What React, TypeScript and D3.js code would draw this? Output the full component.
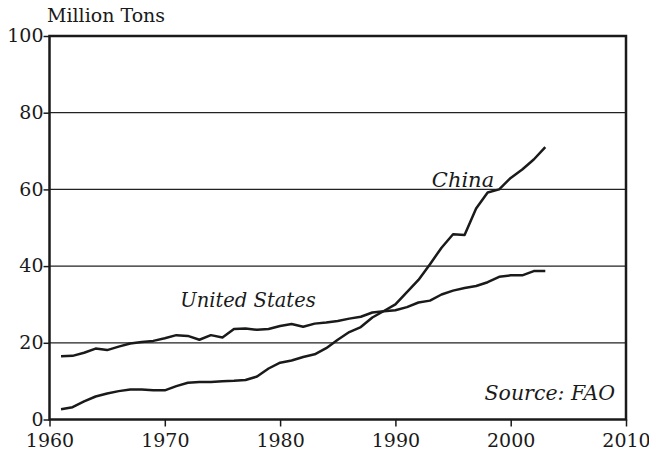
import React, { useEffect, useRef } from 'react';
import * as d3 from 'd3';

const years = d3.range(1961, 2004);

const china = [
  2.7, 3.2, 4.7, 6.0, 6.8, 7.4, 7.8, 7.8, 7.6, 7.6,
  8.7, 9.6, 9.8, 9.8, 10.0, 10.1, 10.3, 11.2, 13.3, 14.8,
  15.4, 16.3, 17.0, 18.6, 20.8, 22.8, 24.1, 26.6, 28.3, 30.0,
  33.2, 36.4, 40.5, 44.8, 48.3, 48.1, 55.0, 59.2, 60.0, 63.0,
  65.2, 67.8, 71.0,
];

const unitedStates = [
  16.5, 16.6, 17.4, 18.5, 18.1, 19.0, 19.8, 20.2, 20.5, 21.2,
  22.0, 21.8, 20.8, 22.0, 21.4, 23.6, 23.7, 23.4, 23.6, 24.4,
  24.9, 24.2, 25.0, 25.3, 25.7, 26.3, 26.8, 27.9, 28.2, 28.5,
  29.3, 30.5, 31.0, 32.6, 33.6, 34.3, 34.8, 35.8, 37.2, 37.6,
  37.6, 38.7, 38.7,
];

const xTicks = [1960, 1970, 1980, 1990, 2000, 2010];
const yTicks = [0, 20, 40, 60, 80, 100];

const FONT = "'DejaVu Serif', serif";

const App: React.FC = () => {
  const svgRef = useRef<SVGSVGElement | null>(null);

  useEffect(() => {
    const svg = d3.select(svgRef.current!);
    svg.selectAll('*').remove();

    const width = 657;
    const height = 456;
    const margin = { top: 36, right: 31, bottom: 36.5, left: 49.5 };
    const innerW = width - margin.left - margin.right;
    const innerH = height - margin.top - margin.bottom;

    const x = d3.scaleLinear().domain([1960, 2010]).range([0, innerW]);
    const y = d3.scaleLinear().domain([0, 100]).range([innerH, 0]);

    const g = svg.append('g').attr('transform', `translate(${margin.left},${margin.top})`);

    // gridlines
    g.selectAll('.grid')
      .data(yTicks.filter((t) => t > 0 && t < 100))
      .enter()
      .append('line')
      .attr('x1', 0)
      .attr('x2', innerW)
      .attr('y1', (d) => y(d))
      .attr('y2', (d) => y(d))
      .attr('stroke', '#222')
      .attr('stroke-width', 1.2);

    // frame
    g.append('rect')
      .attr('x', 0)
      .attr('y', 0)
      .attr('width', innerW)
      .attr('height', innerH)
      .attr('fill', 'none')
      .attr('stroke', '#1a1a1a')
      .attr('stroke-width', 2.5);

    // y axis
    const yAxis = d3.axisLeft(y).tickValues(yTicks).tickSize(6).tickPadding(0);
    const ya = g.append('g').call(yAxis);
    ya.select('.domain').remove();
    ya.selectAll('line').attr('stroke', '#1a1a1a').attr('stroke-width', 1.5);
    ya.selectAll('text')
      .style('font-family', FONT)
      .style('font-size', '19px')
      .attr('fill', '#1a1a1a')
      .attr('dy', '0.3em');

    // x axis
    const xAxis = d3.axisBottom(x).tickValues(xTicks).tickFormat(d3.format('d')).tickSize(7).tickPadding(7);
    const xa = g.append('g').attr('transform', `translate(0,${innerH})`).call(xAxis);
    xa.select('.domain').remove();
    xa.selectAll('line').attr('stroke', '#1a1a1a').attr('stroke-width', 1.5);
    xa.selectAll('text')
      .style('font-family', FONT)
      .style('font-size', '19px')
      .attr('fill', '#1a1a1a');

    // lines
    const line = d3
      .line<number>()
      .x((_, i) => x(years[i]))
      .y((d) => y(d));

    [china, unitedStates].forEach((series) => {
      g.append('path')
        .datum(series)
        .attr('d', line)
        .attr('fill', 'none')
        .attr('stroke', '#1a1a1a')
        .attr('stroke-width', 2.5)
        .attr('stroke-linejoin', 'round');
    });

    // labels
    const label = (txt: string, tx: number, ty: number, anchor: string, italic = true, size = 20) =>
      svg
        .append('text')
        .attr('x', tx)
        .attr('y', ty)
        .attr('text-anchor', anchor)
        .style('font-family', FONT)
        .style('font-size', `${size}px`)
        .style('font-style', italic ? 'italic' : 'normal')
        .attr('fill', '#1a1a1a')
        .text(txt);

    label('Million Tons', 47, 22, 'start', false, 19);
    label('China', 463, 187, 'middle', true, 21);
    label('United States', 248, 307, 'middle', true, 19.5);
    label('Source: FAO', 615, 400, 'end', true, 20.5);
  }, []);

  return <svg ref={svgRef} width={657} height={456} style={{ display: 'block', margin: -8 }} />;
};

export default App;
